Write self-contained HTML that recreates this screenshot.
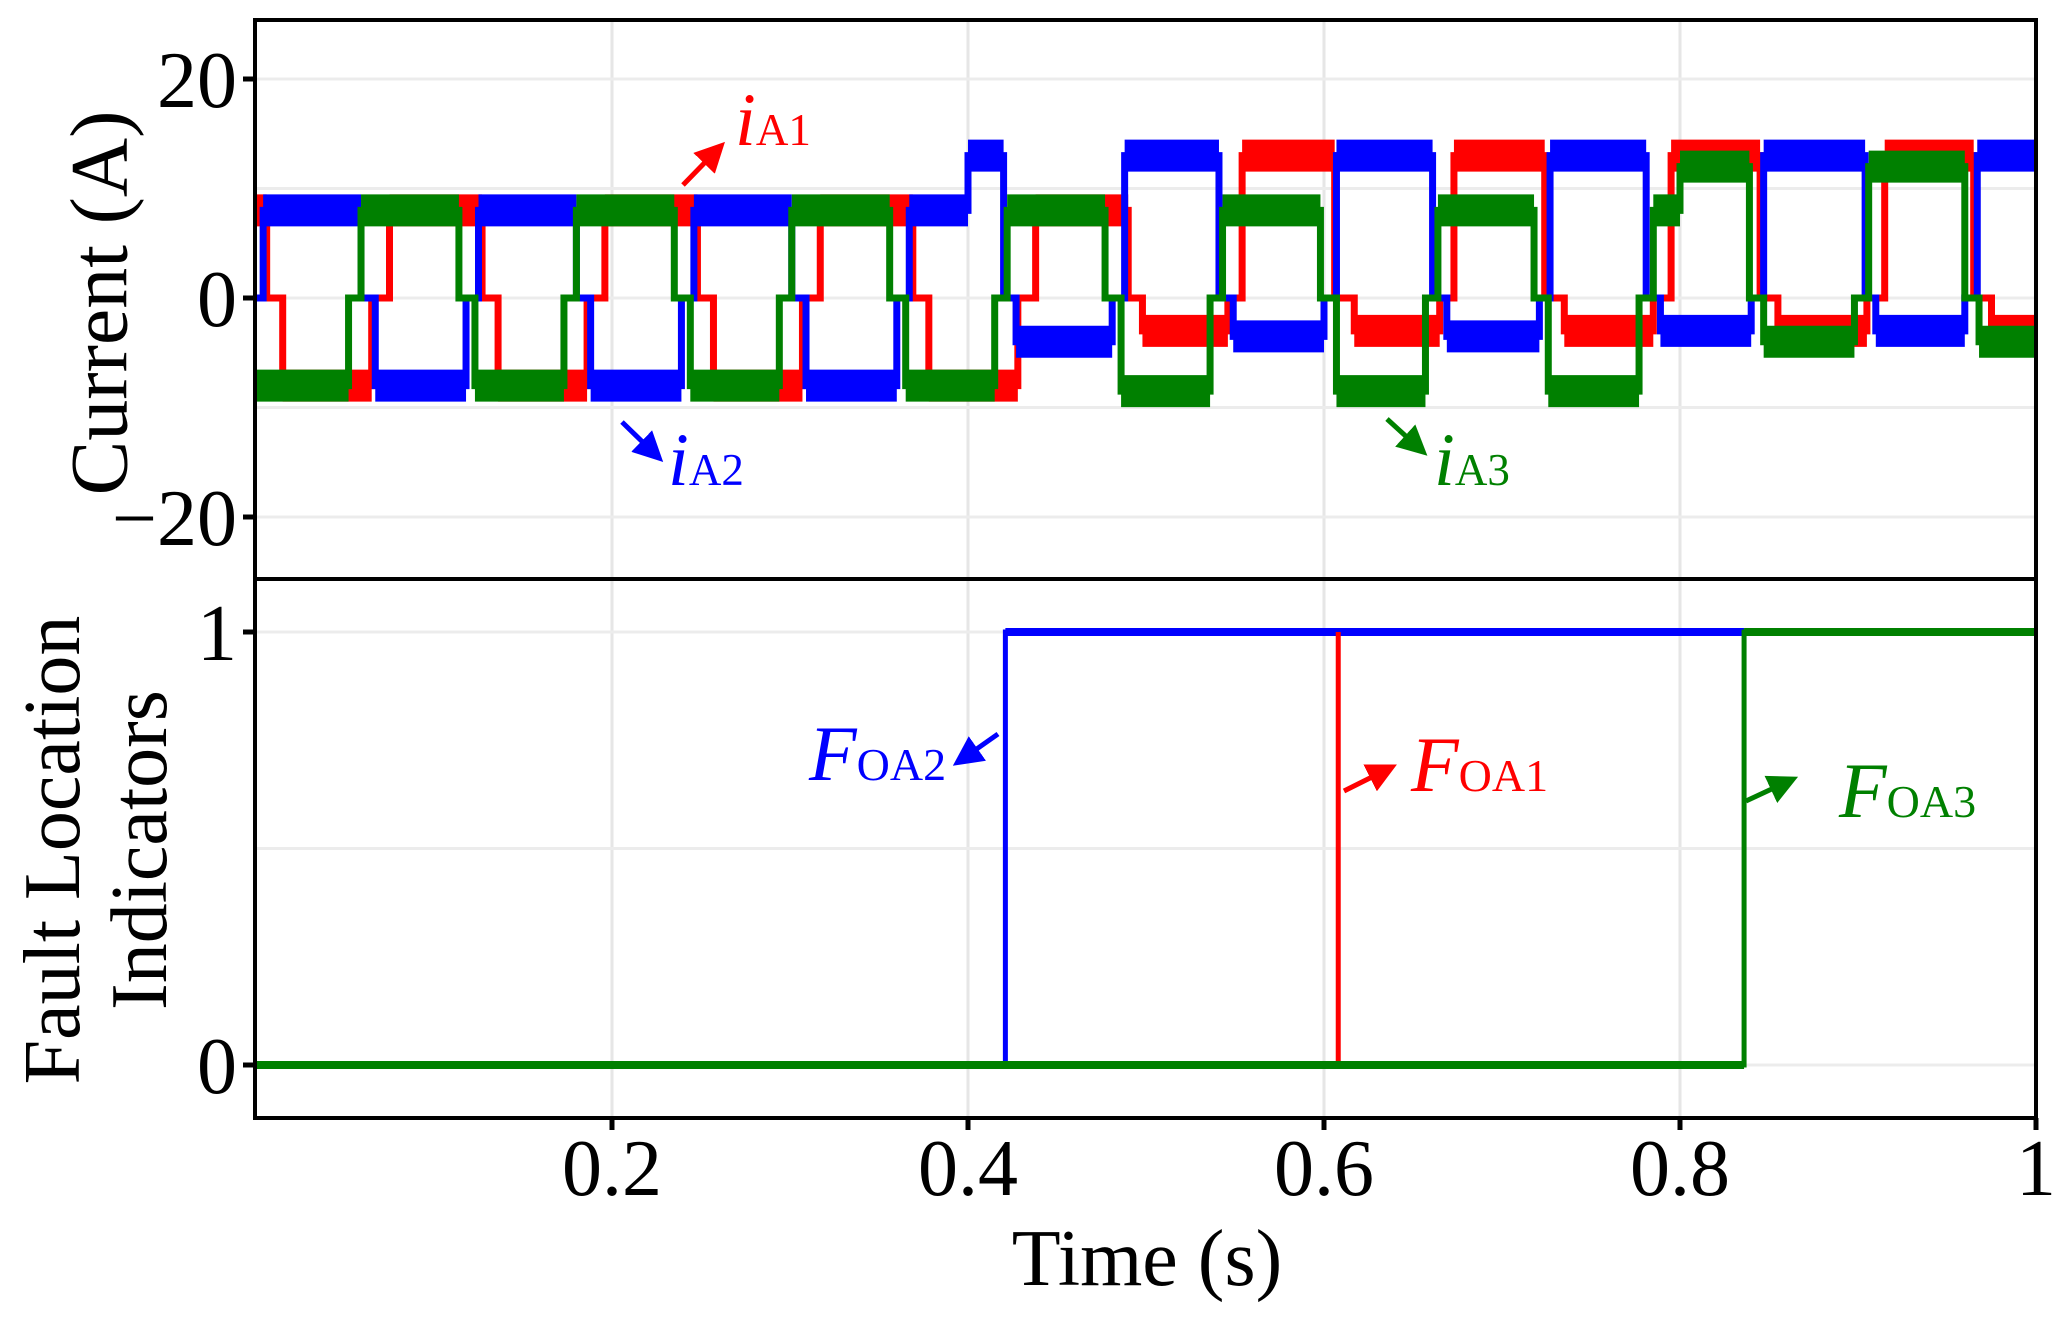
<!DOCTYPE html>
<html><head><meta charset="utf-8"><style>
html,body{margin:0;padding:0;background:#fff}
svg{display:block}
text{font-family:"Liberation Serif",serif}
</style></head><body>
<svg id="chart" width="2061" height="1318" viewBox="0 0 2061 1318" xmlns="http://www.w3.org/2000/svg">
<defs>
<clipPath id="clipTop"><rect x="256" y="21" width="1780" height="557"/></clipPath>
<clipPath id="clipBot"><rect x="256" y="580" width="1780" height="537"/></clipPath>
<marker id="arR" markerWidth="6" markerHeight="6" refX="4" refY="3" orient="auto" markerUnits="strokeWidth"><path d="M0,0 L6,3 L0,6 z" fill="#f00"/></marker>
<marker id="arB" markerWidth="6" markerHeight="6" refX="4" refY="3" orient="auto" markerUnits="strokeWidth"><path d="M0,0 L6,3 L0,6 z" fill="#00f"/></marker>
<marker id="arG" markerWidth="6" markerHeight="6" refX="4" refY="3" orient="auto" markerUnits="strokeWidth"><path d="M0,0 L6,3 L0,6 z" fill="#008000"/></marker>
</defs>
<g id="grid"></g>
<g id="topSeries" clip-path="url(#clipTop)"></g>
<g id="botSeries" clip-path="url(#clipBot)"></g>
<g id="axes"></g>

<text x="99" y="303" font-size="82" text-anchor="middle" dominant-baseline="central" transform="rotate(-90 99 303)">Current (A)</text>
<text x="53" y="850" font-size="80" text-anchor="middle" dominant-baseline="central" transform="rotate(-90 53 850)">Fault Location</text>
<text x="140" y="850" font-size="80" text-anchor="middle" dominant-baseline="central" transform="rotate(-90 140 850)">Indicators</text>
<text x="1147" y="1285" font-size="80" text-anchor="middle">Time (s)</text>

<g>
<line x1="683" y1="185" x2="718" y2="149" stroke="#f00" stroke-width="5" marker-end="url(#arR)"/>
<text x="735" y="145" fill="#f00" font-size="75"><tspan font-style="italic">i</tspan><tspan font-size="45">A1</tspan></text>
</g>
<g>
<line x1="622" y1="422" x2="656" y2="455" stroke="#00f" stroke-width="5" marker-end="url(#arB)"/>
<text x="668" y="485" fill="#00f" font-size="75"><tspan font-style="italic">i</tspan><tspan font-size="45">A2</tspan></text>
</g>
<g>
<line x1="1387" y1="419" x2="1420" y2="449" stroke="#008000" stroke-width="5" marker-end="url(#arG)"/>
<text x="1434" y="485" fill="#008000" font-size="75"><tspan font-style="italic">i</tspan><tspan font-size="45">A3</tspan></text>
</g>
<g>
<line x1="998" y1="734" x2="961" y2="760" stroke="#00f" stroke-width="5" marker-end="url(#arB)"/>
<text x="809" y="780" fill="#00f" font-size="78"><tspan font-style="italic">F</tspan><tspan font-size="46">OA2</tspan></text>
</g>
<g>
<line x1="1344" y1="791" x2="1388" y2="769" stroke="#f00" stroke-width="5" marker-end="url(#arR)"/>
<text x="1411" y="791" fill="#f00" font-size="78"><tspan font-style="italic">F</tspan><tspan font-size="46">OA1</tspan></text>
</g>
<g>
<line x1="1746" y1="801" x2="1789" y2="781" stroke="#008000" stroke-width="5" marker-end="url(#arG)"/>
<text x="1839" y="817" fill="#008000" font-size="78"><tspan font-style="italic">F</tspan><tspan font-size="46">OA3</tspan></text>
</g>
</svg>
<script>
// ---- data ----
const xTicks = [0.2, 0.4, 0.6, 0.8, 1];
const xTickLabels = ["0.2", "0.4", "0.6", "0.8", "1"];
const yTopTicks = [20, 0, -20];
const yTopTickLabels = ["20", "0", "\u221220"];
const yTopGrid = [20, 10, 0, -10, -20];
const yBotTicks = [1, 0];
const yBotTickLabels = ["1", "0"];
const yBotGrid = [1, 0.5, 0];
// step series [time, level]
const iA1 = [[0,8],[0.006,0],[0.015,-8],[0.065,0],[0.075,8],[0.127,0],[0.136,-8],[0.186,0],[0.196,8],[0.248,0],[0.257,-8],[0.307,0],[0.317,8],[0.369,0],[0.378,-8],[0.428,0],[0.438,8],[0.490,0],[0.498,-3],[0.546,0],[0.554,13],[0.606,0],[0.617,-3],[0.665,0],[0.673,13],[0.724,0],[0.735,-3],[0.785,0],[0.795,13],[0.845,0],[0.855,-3],[0.905,0],[0.915,13],[0.965,0],[0.975,-3],[1,-3]];
const iA2 = [[0,0],[0.004,8],[0.059,0],[0.067,-8],[0.118,0],[0.125,8],[0.180,0],[0.188,-8],[0.239,0],[0.246,8],[0.301,0],[0.309,-8],[0.360,0],[0.367,8],[0.400,13],[0.420,0],[0.427,-4],[0.481,0],[0.488,13],[0.541,0],[0.549,-3.5],[0.600,0],[0.607,13],[0.661,0],[0.669,-3.5],[0.721,0],[0.727,13],[0.781,0],[0.789,-3],[0.840,0],[0.847,13],[0.904,0],[0.910,-3],[0.960,0],[0.967,13],[1,13]];
const iA3 = [[0,-8],[0.052,0],[0.059,8],[0.114,0],[0.123,-8],[0.173,0],[0.180,8],[0.235,0],[0.244,-8],[0.294,0],[0.301,8],[0.356,0],[0.365,-8],[0.415,0],[0.422,8],[0.477,0],[0.486,-8.5],[0.536,0],[0.543,8],[0.598,0],[0.607,-8.5],[0.657,0],[0.664,8],[0.718,0],[0.726,-8.5],[0.777,0],[0.785,8],[0.800,12],[0.839,0],[0.847,-4],[0.898,0],[0.906,12],[0.960,0],[0.968,-4],[1,-4]];
const faultTimeFOA2 = 0.421;
const faultTimeFOA1 = 0.608;
const faultTimeFOA3 = 0.836;

// ---- axes ----
const X0 = 256, X1 = 2036;
const xS = t => X0 + t * (X1 - X0);
const yTop = v => 298 - v * 10.95;
const yBot = v => 1065 - v * 433;
const NS = "http://www.w3.org/2000/svg";
function mk(tag, attrs, parent) {
  const e = document.createElementNS(NS, tag);
  for (const k in attrs) e.setAttribute(k, attrs[k]);
  parent.appendChild(e);
  return e;
}
const grid = document.getElementById('grid');
const axes = document.getElementById('axes');
const topG = document.getElementById('topSeries');
const botG = document.getElementById('botSeries');

xTicks.forEach(t => {
  if (t < 1) {
    const g1 = mk('line', {x1: xS(t), x2: xS(t), y1: 21, y2: 1117, stroke: '#e6e6e6', 'stroke-width': 3}, grid);
    
    
  }
});
yTopGrid.forEach(v => {
  const g = mk('line', {x1: X0, x2: X1, y1: yTop(v), y2: yTop(v), stroke: '#ececec', 'stroke-width': 3}, grid);
  
  
});
yBotGrid.forEach(v => {
  const g = mk('line', {x1: X0, x2: X1, y1: yBot(v), y2: yBot(v), stroke: '#ececec', 'stroke-width': 3}, grid);
  
  
});

// current series
function drawSteps(data, color, name) {
  const g = mk('g', {}, topG);
  
  
  let d = '';
  data.forEach((p, i) => {
    const x = xS(p[0]), y = yTop(p[1]);
    if (i === 0) d += `M${x},${y}`;
    else d += `L${x},${yTop(data[i-1][1])}L${x},${y}`;
  });
  mk('path', {d: d, fill: 'none', stroke: color, 'stroke-width': 7}, g);
  for (let i = 0; i < data.length - 1; i++) {
    const v = data[i][1];
    if (v === 0) continue;
    const seg = mk('line', {x1: xS(data[i][0]), x2: xS(data[i+1][0]), y1: yTop(v), y2: yTop(v), stroke: color, 'stroke-width': 32}, g);
    
    
  }
}
drawSteps(iA1, '#ff0000', 'series-ia1');
drawSteps(iA2, '#0000ff', 'series-ia2');
drawSteps(iA3, '#008000', 'series-ia3');

// indicators
const l1 = mk('path', {d: `M${xS(faultTimeFOA2)},${yBot(0)}L${xS(faultTimeFOA2)},${yBot(1)}L${xS(faultTimeFOA3)},${yBot(1)}`, fill: 'none', stroke: '#0000ff', 'stroke-width': 5}, botG);


const l1b = mk('line', {x1: xS(faultTimeFOA2), x2: xS(faultTimeFOA3), y1: yBot(1), y2: yBot(1), stroke: '#0000ff', 'stroke-width': 8}, botG);


const l2 = mk('line', {x1: xS(faultTimeFOA1), x2: xS(faultTimeFOA1), y1: yBot(0), y2: yBot(1), stroke: '#ff0000', 'stroke-width': 5}, botG);


const l3 = mk('path', {d: `M${xS(0)},${yBot(0)}L${xS(faultTimeFOA3)},${yBot(0)}L${xS(faultTimeFOA3)},${yBot(1)}L${xS(1)},${yBot(1)}`, fill: 'none', stroke: '#008000', 'stroke-width': 5}, botG);


const l3a = mk('line', {x1: xS(0), x2: xS(faultTimeFOA3), y1: yBot(0), y2: yBot(0), stroke: '#008000', 'stroke-width': 8}, botG);


const l3b = mk('line', {x1: xS(faultTimeFOA3), x2: xS(1), y1: yBot(1), y2: yBot(1), stroke: '#008000', 'stroke-width': 8}, botG);



// frames
const f1 = mk('rect', {x: 255, y: 20, width: 1781, height: 559, fill: 'none', stroke: '#000', 'stroke-width': 4}, axes);


const f2 = mk('rect', {x: 255, y: 579, width: 1781, height: 539, fill: 'none', stroke: '#000', 'stroke-width': 4}, axes);



xTicks.forEach((t, i) => {
  const tk = mk('line', {x1: xS(t), x2: xS(t), y1: 1118, y2: 1130, stroke: '#000', 'stroke-width': 5}, axes);
  
  
  const lb = mk('text', {x: xS(t), y: 1195, 'font-size': 80, 'text-anchor': 'middle'}, axes);
  lb.textContent = xTickLabels[i];
  
  
});
yTopTicks.forEach((v, i) => {
  const tk = mk('line', {x1: 243, x2: 255, y1: yTop(v), y2: yTop(v), stroke: '#000', 'stroke-width': 5}, axes);
  
  
  const lb = mk('text', {x: 237, y: yTop(v) + 28, 'font-size': 80, 'text-anchor': 'end'}, axes);
  lb.textContent = yTopTickLabels[i];
  
  
});
yBotTicks.forEach((v, i) => {
  const tk = mk('line', {x1: 243, x2: 255, y1: yBot(v), y2: yBot(v), stroke: '#000', 'stroke-width': 5}, axes);
  
  
  const lb = mk('text', {x: 237, y: yBot(v) + 28, 'font-size': 80, 'text-anchor': 'end'}, axes);
  lb.textContent = yBotTickLabels[i];
  
  
});
</script>
</body></html>
